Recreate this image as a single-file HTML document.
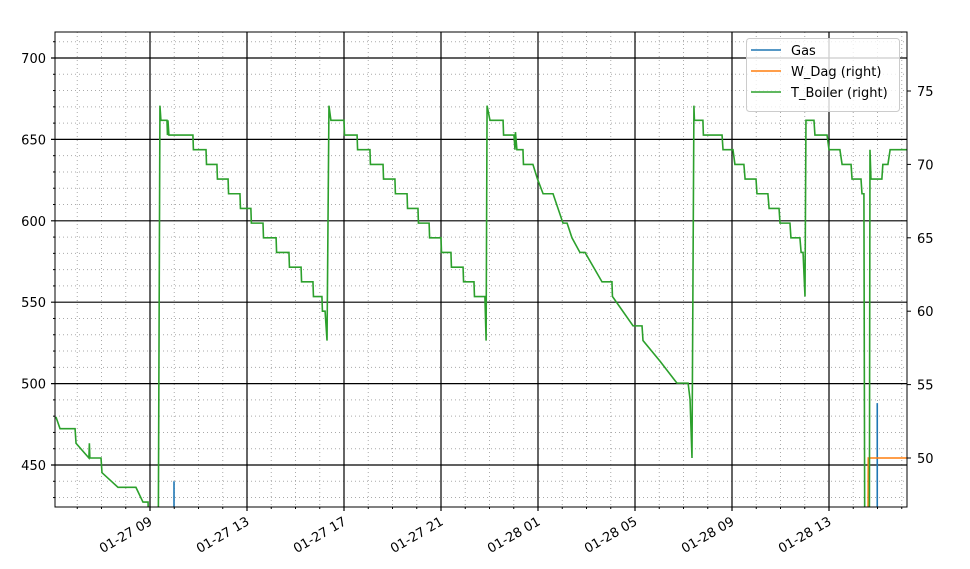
<!DOCTYPE html>
<html><head><meta charset="utf-8"><style>
html,body{margin:0;padding:0;background:#fff;width:970px;height:569px;overflow:hidden}
svg{display:block;font-family:"DejaVu Sans","Liberation Sans",sans-serif}
</style></head><body>
<svg id="chart" width="970" height="569" viewBox="0 0 970 569" xmlns="http://www.w3.org/2000/svg"></svg>
<script>
// data (time in hours since 01-27 00:00)
const xTickHours = [9,13,17,21,25,29,33,37];
const xTickLabels = ["01-27 09","01-27 13","01-27 17","01-27 21","01-28 01","01-28 05","01-28 09","01-28 13"];
const leftTicks = [450,500,550,600,650,700];
const rightTicks = [50,55,60,65,70,75];
const gasTimes = [9.99, 38.99];
const gasValues = [440, 488];
const wdagTimes = [38.6, 38.62, 40.3];
const wdagValues = [40, 50, 50];
const boilerTimes = [5.12,5.29,5.91,5.95,6.48,6.50,6.52,6.98,7.02,7.68,8.42,8.71,8.92,9.0,9.33,9.41,9.45,9.70,9.72,9.74,9.78,10.77,10.79,11.31,11.33,11.76,11.78,12.22,12.24,12.71,12.73,13.16,13.18,13.66,13.68,14.20,14.22,14.73,14.75,15.23,15.25,15.72,15.74,16.09,16.11,16.22,16.30,16.38,16.46,17.0,17.02,17.54,17.56,18.07,18.09,18.61,18.63,19.10,19.12,19.60,19.62,20.05,20.07,20.51,20.53,21.0,21.02,21.41,21.43,21.91,21.93,22.36,22.38,22.81,22.86,22.90,23.02,23.56,23.58,24.01,24.05,24.07,24.13,24.38,24.40,24.79,24.98,25.21,25.62,26.03,26.20,26.40,26.73,26.94,27.64,28.05,28.07,28.92,29.29,29.33,30.03,30.73,31.19,31.27,31.35,31.43,31.45,31.80,31.82,32.59,32.63,33.04,33.12,33.49,33.54,33.99,34.03,34.48,34.53,34.94,34.98,35.39,35.43,35.80,35.85,35.93,36.01,36.05,36.38,36.42,36.92,37.0,37.45,37.54,37.91,37.95,38.32,38.36,38.44,38.48,38.66,38.69,38.73,39.18,39.22,39.43,39.52,40.3];
const boilerValues = [52.8,52,52,51,50,51,50,50,49,48,48,47,47,40,40,74,73,73,72,73,72,72,71,71,70,70,69,69,68,68,67,67,66,66,65,65,64,64,63,63,62,62,61,61,60,60,58,74,73,73,72,72,71,71,70,70,69,69,68,68,67,67,66,66,65,65,64,64,63,63,62,62,61,61,58,74,73,73,72,72,71,72.2,71,71,70,70,69,68,68,66,66,65,64,64,62,62,61,59,59,58,56.6,55.1,55.1,54,50,74,73,73,72,72,71,71,70,70,69,69,68,68,67,67,66,66,65,65,64,64,61,73,73,72,72,71,71,70,70,69,69,68,68,40,40,71,69,69,70,70,71,71];

const L=55,R=907,T=32,B=507;
const xs = h => 150 + (h-9)*24.25;
const yl = v => 465 - (v-450)*1.628;
const yr = v => 458 - (v-50)*14.68;
const svg = document.getElementById('chart');
const NS='http://www.w3.org/2000/svg';
function mk(tag, attrs, parent){const e=document.createElementNS(NS,tag);for(const k in attrs)e.setAttribute(k,attrs[k]);(parent||svg).appendChild(e);return e;}

const defs=mk('defs',{});
const cp=mk('clipPath',{id:'clip'},defs);
mk('rect',{x:L,y:T,width:R-L,height:B-T},cp);

const grid=mk('g',{});


for(let h=6;h<=40;h++){ if(xTickHours.includes(h))continue;
  mk('line',{x1:xs(h),x2:xs(h),y1:T,y2:B,stroke:'#aaa','stroke-width':1,'stroke-dasharray':'1,3'},grid);
  mk('line',{x1:xs(h),x2:xs(h),y1:B,y2:B+2,stroke:'#000','stroke-width':1},grid);}
for(let v=430;v<=710;v+=10){ if(v%50===0)continue;
  mk('line',{x1:L,x2:R,y1:yl(v),y2:yl(v),stroke:'#aaa','stroke-width':1,'stroke-dasharray':'1,3'},grid);
  mk('line',{x1:L-2,x2:L,y1:yl(v),y2:yl(v),stroke:'#000','stroke-width':1},grid);}
xTickHours.forEach((h,i)=>{
  mk('line',{x1:xs(h),x2:xs(h),y1:T,y2:B+4,stroke:'#000','stroke-width':1.2},grid);
  const ax=xs(h)-2, ay=B+8;
  const t=mk('text',{x:ax,y:ay,'font-size':13,'text-anchor':'end',transform:`rotate(-30 ${ax} ${ay})`,dy:'0.8em'});
  t.textContent=xTickLabels[i];
  
  
});
leftTicks.forEach(v=>{
  mk('line',{x1:L-4,x2:R,y1:yl(v),y2:yl(v),stroke:'#000','stroke-width':1.2},grid);
  const t=mk('text',{x:L-9,y:yl(v)+5,'font-size':13,'text-anchor':'end'});
  t.textContent=v;
  
  
});
rightTicks.forEach(v=>{
  mk('line',{x1:R,x2:R+4,y1:yr(v),y2:yr(v),stroke:'#000','stroke-width':1});
  const t=mk('text',{x:R+10,y:yr(v)+5,'font-size':13});
  t.textContent=v;
  
  
});

const series=mk('g',{'clip-path':'url(#clip)'});
gasTimes.forEach((h,i)=>{
  const l=mk('line',{x1:xs(h),x2:xs(h),y1:yl(0),y2:yl(gasValues[i]),stroke:'#1f77b4','stroke-width':1.6},series);
  
  
});
const wp=mk('polyline',{points:wdagTimes.map((h,i)=>xs(h)+','+yr(wdagValues[i])).join(' '),fill:'none',stroke:'#ff7f0e','stroke-width':1.6},series);


const bp=mk('polyline',{points:boilerTimes.map((h,i)=>xs(h)+','+yr(boilerValues[i])).join(' '),fill:'none',stroke:'#2ca02c','stroke-width':1.6},series);



mk('rect',{x:L,y:T,width:R-L,height:B-T,fill:'none',stroke:'#000','stroke-width':1});

const lg=mk('g',{});


mk('rect',{x:746.5,y:38.5,width:153,height:73,rx:3,fill:'#fff','fill-opacity':0.8,stroke:'#ccc'},lg);
[['Gas','#1f77b4',50],['W_Dag (right)','#ff7f0e',71],['T_Boiler (right)','#2ca02c',92]].forEach(e=>{
  const g=mk('g',{},lg);
  
  
  mk('line',{x1:751,x2:781,y1:e[2],y2:e[2],stroke:e[1],'stroke-width':1.6},g);
  const t=mk('text',{x:791,y:e[2]+5,'font-size':13},g);
  t.textContent=e[0];
});
</script>
</body></html>
